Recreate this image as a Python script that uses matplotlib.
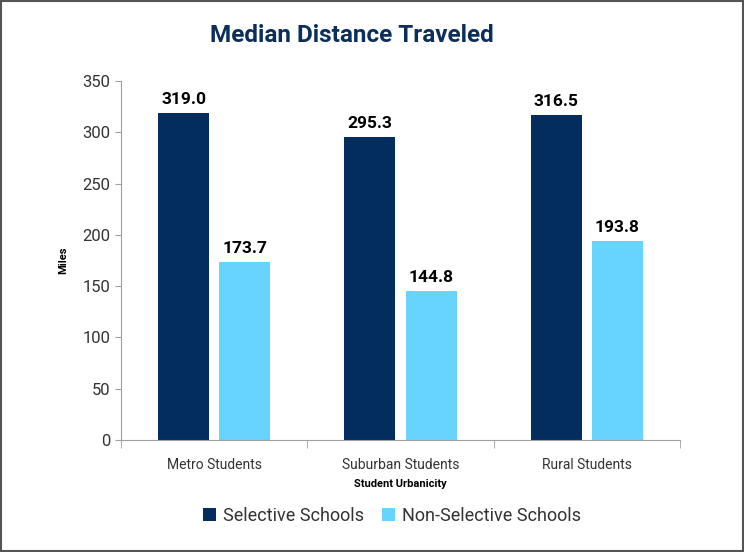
import matplotlib.pyplot as plt
import numpy as np

categories = ['Metro Students', 'Suburban Students', 'Rural Students']
selective = [319.0, 295.3, 316.5]
non_selective = [173.7, 144.8, 193.8]
series_names = ['Selective Schools', 'Non-Selective Schools']

navy = '#022D5E'
light = '#66D4FF'

plt.rcParams['font.family'] = ['Roboto', 'DejaVu Sans']

fig = plt.figure(figsize=(7.44, 5.52), dpi=100)
ax = fig.add_axes([121 / 744, 1 - 440 / 552, (680 - 121) / 744, (440 - 81) / 552])

x = np.arange(len(categories))
w = 0.274
off = 0.164
b1 = ax.bar(x - off, selective, w, color=navy, label=series_names[0])
b2 = ax.bar(x + off, non_selective, w, color=light, label=series_names[1])

for bars in (b1, b2):
    for r in bars:
        ax.text(r.get_x() + r.get_width() / 2, r.get_height() + 6, f'{r.get_height():.1f}',
                ha='center', va='bottom', fontsize=12.5, fontweight='bold', color='black')

ax.set_xlim(-0.5, 2.5)
ax.set_ylim(0, 350)
ax.set_yticks(range(0, 351, 50))
ax.tick_params(axis='y', labelsize=12, colors='#333333', length=4, color='#A0A0A0')
ax.set_xticks(x)
ax.set_xticklabels(categories)
ax.tick_params(axis='x', labelsize=10, colors='#333333', length=0, pad=13)
ax.set_xticks([-0.5, 0.5, 1.5, 2.5], minor=True)
ax.tick_params(axis='x', which='minor', length=6, color='#A0A0A0')

for s in ['top', 'right']:
    ax.spines[s].set_visible(False)
ax.spines['left'].set_color('#A0A0A0')
ax.spines['bottom'].set_color('#A0A0A0')

ax.set_ylabel('Miles', fontsize=8, fontweight='bold', labelpad=10)
ax.set_xlabel('Student Urbanicity', fontsize=8, fontweight='bold', labelpad=5)

fig.text(352 / 744, 1 - 36 / 552, 'Median Distance Traveled', ha='center', va='center',
         fontsize=17.5, fontweight='bold', color='#0B2E5A')

fig.legend(handles=[b1, b2], loc='center', bbox_to_anchor=(392 / 744, 1 - 516 / 552),
           ncol=2, frameon=False, fontsize=13, handlelength=0.7, handleheight=0.7,
           columnspacing=1.0, handletextpad=0.4, labelcolor='#333333')

fig.patches.append(plt.Rectangle((0.001, 0.001), 0.998, 0.998, transform=fig.transFigure,
                                 fill=False, edgecolor='#555555', linewidth=1.5))

fig.savefig('out.png', dpi=100)
